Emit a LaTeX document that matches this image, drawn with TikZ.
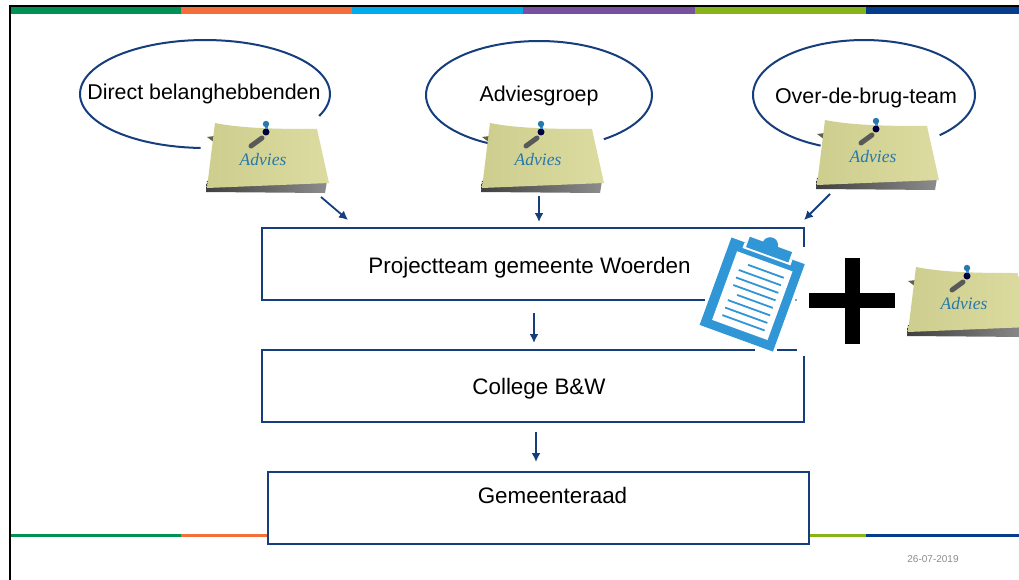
\documentclass[tikz,border=0pt]{standalone}
\usepackage{fontspec}
\setmainfont{Liberation Sans}
\newfontfamily\adviesfont{Liberation Serif}
\usetikzlibrary{arrows.meta}
\definecolor{navy}{RGB}{22,62,125}
\definecolor{groen}{RGB}{0,146,84}
\definecolor{oranje}{RGB}{244,110,60}
\definecolor{cyaan}{RGB}{0,170,235}
\definecolor{paars}{RGB}{120,80,160}
\definecolor{lime}{RGB}{135,180,25}
\definecolor{donker}{RGB}{5,60,140}
\definecolor{papier}{RGB}{216,216,150}
\definecolor{klembord}{RGB}{48,150,214}
\tikzset{
  vak/.style={draw=navy,line width=2pt,fill=white,minimum width=#1,minimum height=72pt,inner sep=0pt},
  label/.style={font=\fontsize{21.4}{25}\selectfont,inner sep=0pt},
  grootlabel/.style={font=\fontsize{22.4}{26}\selectfont,inner sep=0pt},
  wolk/.style={navy,line width=2pt},
  pijl/.style={navy,line width=1.8pt,-{Latex[length=9pt,width=9pt]}},
}
\begin{document}
\begin{tikzpicture}[x=1pt,y=-1pt]
\clip (0,0) rectangle (1019,580);
\fill [white] (0,0) rectangle (1019,580);
\draw [line width=2pt] (10,580)--(10,6)--(1019,6);
% gekleurde balken
\foreach \xa/\xb/\kleur in {11/181/groen,181/352/oranje,352/523/cyaan,523/695/paars,695/866/lime,866/1019/donker}
  \fill [\kleur] (\xa,7.5) rectangle (\xb,14);
\foreach \xa/\xb/\kleur in {11/181/groen,181/352/oranje,695/866/lime,866/1019/donker}
  \fill [\kleur] (\xa,534) rectangle (\xb,537);
% wolken
\draw [wolk,domain=92:384,samples=80] plot ({205+125*cos(\x)},{94+54*sin(\x)});
\draw [wolk,domain=116:415,samples=80] plot ({539+113*cos(\x)},{95+54*sin(\x)});
\draw [wolk,domain=113:407,samples=80] plot ({864+111*cos(\x)},{95+55*sin(\x)});
\node [label] (direct) at (204,94) {Direct belanghebbenden};
\node [label] (groep) at (539,96) {Adviesgroep};
\node [label] (brug) at (866,98) {Over-de-brug-team};
% vakken
\node [vak=542pt] (project) at (533,264) {};
\node [vak=542pt] (college) at (533,385.5) {};
\node [vak=541pt] (raad) at (538.5,508) {};
\node [grootlabel] (projecttekst) at (529.5,267.5) {Projectteam gemeente Woerden};
\node [grootlabel] (collegetekst) at (539,388.5) {College B\&W};
\node [grootlabel] (raadtekst) at (552.5,495) {Gemeenteraad};
% briefjes
\foreach \i/\nx/\ny in {1/215/123,2/490/123,3/825/120,4/916/267}{
  \begin{scope}[shift={(\nx,\ny)}]
    \fill [black!55!papier] (-8,14)--(0,13)--(0,20)--cycle;
    \shade [left color=black!75,right color=black!45] (-9,69)--(-8,58)--(112,58)--(110,70)--cycle;
    \shade [left color=papier!95!black,right color=papier!90!white] (0,0) .. controls (30,6) and (70,6) .. (102,6) -- (114,60) -- (-8,65) -- cycle;
    \draw [line width=5pt,black!65,line cap=round] (36,23)--(47,15);
    \fill [black!75!blue] (51,9) circle (3.5);
    \draw [line width=3pt,klembord] (51,0)--(51,6);
    \fill [klembord!80!black] (51,1) circle (3.2);
    \node [inner sep=0pt,text=klembord!80!black,font=\adviesfont\itshape\fontsize{17.5}{19}\selectfont] (advies\i) at (48,37) {Advies};
  \end{scope}
}
% pijlen
\coordinate (tail1) at (321,197);
\coordinate (head1) at (348,220);
\coordinate (tail2) at (539,196);
\coordinate (head2) at (539,222);
\coordinate (tail3) at (830,194);
\coordinate (head3) at (804,220);
\coordinate (tail4) at (534,313);
\coordinate (head4) at (534,343);
\coordinate (tail5) at (536,432);
\coordinate (head5) at (536,462);
\foreach \i in {1,...,5}
  \draw [pijl] (tail\i)--(head\i);
% klembord
\fill [white] (705,247) rectangle (809,302);
\fill [white] (755,346) rectangle (777,352);
\fill [white] (797,346) rectangle (809,356);
\fill [navy] (796,300) circle (0.9);
\begin{scope}[shift={(752,295)},rotate=-20]
  \fill [klembord] (-39,-47) rectangle (39,46);
  \fill [white] (-25,-47) rectangle (26,-41);
  \fill [white] (-29,-36) rectangle (30,37);
  \fill [klembord] (-22,-54) rectangle (23,-43);
  \fill [klembord] (0,-53) circle (8);
  \foreach \v/\ua in {-27/-14,-19/-21,-11/-21,-3/-21,5/-14,13/-21,21/-21,29/-21}
    \draw [klembord,line width=1.8pt] (\ua,\v)--(24,\v);
\end{scope}
% plus
\fill (845,258) rectangle (860,344);
\fill (809,293) rectangle (895,308);
\node [inner sep=0pt,text=black!45,font=\fontsize{10}{12}\selectfont] (datum) at (933,559) {26-07-2019};
\end{tikzpicture}
\end{document}
